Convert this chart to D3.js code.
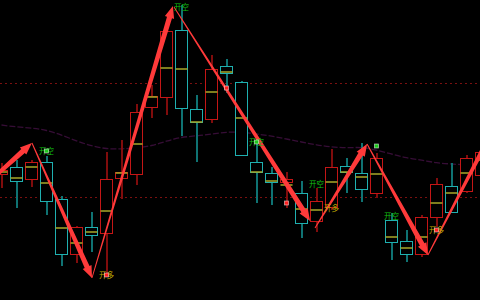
<!DOCTYPE html>
<html>
<head>
<meta charset="utf-8">
<script src="https://cdn.jsdelivr.net/npm/d3@7"></script>
<style>
  body { margin: 0; background: #000; }
  svg { display: block; }
</style>
</head>
<body>
<div id="chart"></div>
<script>
// candle values (price units, bigger = higher)
const opens  = [126, 133, 121, 138, 101, 46, 73, 67, 122, 126, 193, 203, 270, 191, 181, 234, 218, 138, 127, 118, 107, 79, 93, 134, 127, 107, 80, 59, 46, 83, 114, 109, 125];
const closes = [130, 119, 138, 99, 46, 73, 65, 121, 128, 188, 204, 269, 192, 178, 231, 227, 145, 128, 118, 121, 77, 99, 133, 128, 111, 142, 58, 46, 83, 116, 88, 142, 148];
const highs  = [137, 140, 140, 144, 104, 74, 88, 148, 160, 196, 215, 270, 295, 205, 245, 241, 219, 158, 133, 128, 119, 112, 151, 142, 157, 147, 87, 70, 85, 122, 137, 145, 150];
const lows   = [112, 92, 113, 85, 34, 37, 48, 25, 101, 115, 182, 185, 164, 138, 177, 207, 144, 97, 95, 92, 62, 68, 90, 107, 98, 102, 40, 38, 43, 73, 87, 107, 120];
const mids   = [128, 122, 133, 117, 72, 57, 68, 89, 127, 156, 203, 232, 231, 178, 208, 228, 182, 128, 119, 115, 91, 90, 118, 128, 123, 126, 63, 52, 63, 97, 107, 127, 140];
const ma     = [175, 173, 172, 170, 165, 159, 154, 151, 151, 152, 154, 159, 163, 164, 166, 168, 168, 166, 164, 161, 158, 155, 153, 152, 153, 150, 146, 142, 140, 137, 136, 135, 135];
const levels = [217, 103];

// zigzag legs: [fromIndex, fromPrice, toIndex, toPrice]
const legs = [
  [-4.1, 74, 2.03, 157],
  [2.03, 157, 6.03, 22],
  [6.03, 22, 11.43, 294],
  [11.5, 293, 20.57, 79],
  [20.9, 72, 24.37, 156],
  [24.37, 156, 28.43, 45],
  [28.43, 45, 33.2, 183]
];

// signals: index, price, label, kind
const sigIdx   = [3, 7, 12, 15, 17, 19, 21, 22, 25, 26, 29];
const sigPrice = [149, 25, 293, 212, 158, 97, 116, 92, 154, 84, 70];
const sigText  = ["开空", "开多", "开空", "", "开空", "", "开空", "开多", "", "开空", "开多"];
const sigDot   = ["g", "r", "", "r", "g", "r", "", "", "g", "", "r"];

const width = 480, height = 300;

const x = d3.scaleLinear().domain([0, 32]).range([1.5, 481.5]);
const y = d3.scaleLinear().domain([0, 300]).range([height, 0]);

const svg = d3.select("#chart").append("svg")
    .attr("width", width)
    .attr("height", height)
    .style("background", "#000");

// dotted levels
svg.selectAll(".level")
  .data(levels)
  .enter().append("line")
    .attr("x1", 0).attr("x2", width)
    .attr("y1", d => Math.round(y(d)) + 0.5)
    .attr("y2", d => Math.round(y(d)) + 0.5)
    .attr("stroke", "#7a1010")
    .attr("stroke-dasharray", "2,3");

// moving average
svg.append("path")
    .datum(ma)
    .attr("fill", "none")
    .attr("stroke", "#360d36")
    .attr("stroke-width", 1.3)
    .attr("stroke-dasharray", "6,2")
    .attr("d", d3.line().x((d, i) => x(i)).y(d => y(d)).curve(d3.curveBasis));

const candles = opens.map((o, i) => ({
  i: i, o: o, c: closes[i], h: highs[i], l: lows[i], m: mids[i], up: closes[i] >= o
}));

const g = svg.append("g");

// wicks
g.selectAll(".wick")
  .data(candles)
  .enter().append("line")
    .attr("x1", d => Math.round(x(d.i)))
    .attr("x2", d => Math.round(x(d.i)))
    .attr("y1", d => y(d.h))
    .attr("y2", d => y(d.l))
    .attr("stroke", d => d.up ? "#800c0c" : "#0f7373")
    .attr("stroke-width", 2);

// bodies
g.selectAll(".body")
  .data(candles)
  .enter().append("rect")
    .attr("x", d => x(d.i) - 6)
    .attr("width", 12)
    .attr("y", d => Math.round(y(Math.max(d.o, d.c))) + 0.5)
    .attr("height", d => Math.max(1, Math.abs(y(d.o) - y(d.c))))
    .attr("fill", "#000")
    .attr("stroke", d => d.up ? "#c41616" : "#1fb0b0")
    .attr("stroke-width", 1);

// yellow mid marks
g.selectAll(".mid")
  .data(candles)
  .enter().append("line")
    .attr("x1", d => x(d.i) - 6)
    .attr("x2", d => x(d.i) + 6)
    .attr("y1", d => y(d.m))
    .attr("y2", d => y(d.m))
    .attr("stroke", "#a8a828")
    .attr("stroke-width", 1.5);

// tapered arrows
function arrowPath(leg) {
  const x0 = x(leg[0]), y0 = y(leg[1]), x1 = x(leg[2]), y1 = y(leg[3]);
  const dx = x1 - x0, dy = y1 - y0, len = Math.sqrt(dx * dx + dy * dy);
  const ux = dx / len, uy = dy / len, nx = -uy, ny = ux;
  const headLen = 12, headW = 4.8, w0 = 0.5, w1 = 2.6;
  const bx = x1 - ux * headLen, by = y1 - uy * headLen;
  const pts = [
    [x0 + nx * w0, y0 + ny * w0],
    [bx + nx * w1, by + ny * w1],
    [bx + nx * headW, by + ny * headW],
    [x1, y1],
    [bx - nx * headW, by - ny * headW],
    [bx - nx * w1, by - ny * w1],
    [x0 - nx * w0, y0 - ny * w0]
  ];
  return "M" + pts.map(p => p[0].toFixed(1) + "," + p[1].toFixed(1)).join("L") + "Z";
}

svg.selectAll(".arrow")
  .data(legs)
  .enter().append("path")
    .attr("d", arrowPath)
    .attr("fill", "#ff3a3a");

// signals
const sigs = sigIdx.map((k, j) => ({ k: k, p: sigPrice[j], t: sigText[j], dot: sigDot[j] }));

svg.selectAll(".sigtext")
  .data(sigs.filter(d => d.t))
  .enter().append("text")
    .attr("x", d => x(d.k))
    .attr("y", d => y(d.p) + 2.5)
    .attr("text-anchor", "middle")
    .attr("font-family", "'Noto Sans CJK SC', sans-serif")
    .attr("font-size", "7.5px")
    .attr("fill", d => d.t == "开多" ? "#c0aa00" : "#12c012")
    .text(d => d.t);

svg.selectAll(".sigdot")
  .data(sigs.filter(d => d.dot))
  .enter().append("rect")
    .attr("x", d => x(d.k) - 2)
    .attr("y", d => y(d.p) - 2)
    .attr("width", 4)
    .attr("height", 4)
    .attr("fill", d => d.dot == "g" ? "#1ec81e" : "#ff2020")
    .attr("stroke", "#fff")
    .attr("stroke-opacity", 0.6)
    .attr("stroke-width", 0.8);
</script>
</body>
</html>
